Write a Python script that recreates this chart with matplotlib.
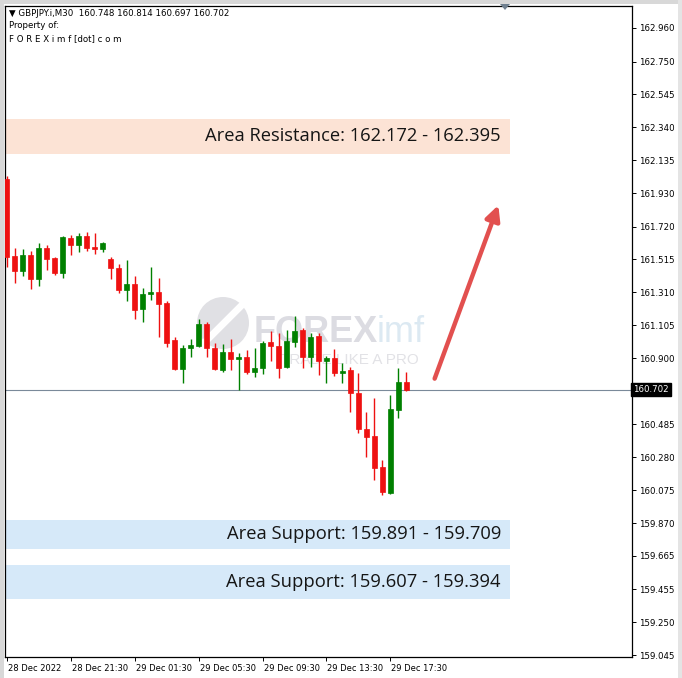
import matplotlib
matplotlib.use("Agg")
import matplotlib.pyplot as plt
from matplotlib.patches import Rectangle, Ellipse, Polygon, FancyArrowPatch
from matplotlib.transforms import blended_transform_factory, ScaledTranslation

W, H = 682, 678

# GBPJPY.i M30 bars, 28 Dec 17:30 .. 29 Dec 18:30
opens = [162.016, 161.537, 161.445, 161.543, 161.391, 161.587, 161.522, 161.433, 161.651, 161.604,
         161.662, 161.591, 161.582, 161.516, 161.464, 161.325, 161.362, 161.204, 161.298, 161.314,
         161.245, 161.012, 160.833, 160.961, 160.975, 161.112, 160.964, 160.825, 160.936, 160.896,
         160.904, 160.815, 160.836, 160.998, 160.975, 160.846, 161.002, 161.075, 160.904, 161.037,
         160.883, 160.898, 160.808, 160.825, 160.683, 160.455, 160.413, 160.218, 160.059, 160.575,
         160.748]
highs = [162.036, 161.585, 161.579, 161.570, 161.620, 161.605, 161.529, 161.662, 161.668, 161.678,
         161.687, 161.678, 161.626, 161.529, 161.487, 161.512, 161.412, 161.335, 161.470, 161.398,
         161.258, 161.029, 160.981, 161.021, 161.142, 161.127, 160.992, 160.987, 161.017, 160.929,
         160.950, 160.961, 161.008, 161.071, 161.054, 161.075, 161.162, 161.085, 161.056, 161.056,
         160.913, 160.954, 160.867, 160.842, 160.805, 160.565, 160.648, 160.263, 160.669, 160.836,
         160.814]
lows = [161.470, 161.366, 161.412, 161.329, 161.350, 161.449, 161.418, 161.398, 161.543, 161.564,
        161.570, 161.547, 161.564, 161.391, 161.304, 161.258, 161.142, 161.127, 161.262, 161.033,
        160.971, 160.825, 160.742, 160.908, 160.967, 160.904, 160.825, 160.815, 160.825, 160.700,
        160.800, 160.783, 160.800, 160.883, 160.773, 160.836, 160.971, 160.838, 160.842, 160.794,
        160.746, 160.788, 160.742, 160.565, 160.430, 160.284, 160.139, 160.045, 160.051, 160.524,
        160.697]
closes = [161.532, 161.445, 161.543, 161.391, 161.587, 161.516, 161.433, 161.655, 161.604, 161.662,
          161.587, 161.582, 161.620, 161.464, 161.325, 161.362, 161.200, 161.300, 161.314, 161.237,
          160.996, 160.833, 160.961, 160.979, 161.112, 160.961, 160.830, 160.939, 160.892, 160.904,
          160.815, 160.836, 160.996, 160.977, 160.836, 161.008, 161.071, 160.906, 161.033, 160.883,
          160.898, 160.808, 160.817, 160.683, 160.455, 160.409, 160.212, 160.066, 160.580, 160.748,
          160.702]

price_ticks = [162.960, 162.750, 162.545, 162.340, 162.135, 161.930, 161.720, 161.515, 161.310,
               161.105, 160.900, 160.485, 160.280, 160.075, 159.870, 159.665, 159.455, 159.250,
               159.045]
time_ticks = [0, 8, 16, 24, 32, 40, 48]
time_labels = ['28 Dec 2022', '28 Dec 21:30', '29 Dec 01:30', '29 Dec 05:30',
               '29 Dec 09:30', '29 Dec 13:30', '29 Dec 17:30']

last_price = 160.702
resistance = (162.172, 162.395)
supports = [(159.709, 159.891), (159.394, 159.607)]
zone_end = 62.9
arrow_from = (53.4, 160.755)
arrow_to = (61.6, 161.870)

UP = '#008000'
DOWN = '#ee1111'


def fxy(x, y):
    # pixel position -> figure fraction
    return x / W, 1 - y / H


def main():
    fig = plt.figure(figsize=(W / 100, H / 100), dpi=100, facecolor='white')
    ax = fig.add_axes([5 / W, (H - 657) / H, 627 / W, 651 / H])
    ax.set_xlim(-0.19, 78.19)
    ax.set_ylim(159.0336, 163.0973)

    # candles
    for i in range(len(opens)):
        o, h, l, c = opens[i], highs[i], lows[i], closes[i]
        col = UP if c >= o else DOWN
        ax.vlines(i, l, h, color=col, lw=1.0, zorder=3)
        lo = min(o, c)
        ht = max(abs(c - o), 0.009)
        ax.add_patch(Rectangle((i - 0.31, lo), 0.62, ht, facecolor=col,
                               edgecolor=col, lw=0.5, zorder=4))

    # zones
    x0 = ax.get_xlim()[0]
    ax.fill_between([x0, zone_end], resistance[0], resistance[1], color='#fce3d5',
                    lw=0, zorder=1)
    ax.text(61.8, sum(resistance) / 2, 'Area Resistance: %.3f - %.3f' % resistance,
            ha='right', va='center', fontsize=13.2, family='Open Sans', color='#151515', zorder=2)
    for lo, hi in supports:
        ax.fill_between([x0, zone_end], lo, hi, color='#d6e9f9', lw=0, zorder=1)
        ax.text(61.8, (lo + hi) / 2, 'Area Support: %.3f - %.3f' % (hi, lo),
                ha='right', va='center', fontsize=13.2, family='Open Sans', color='#151515', zorder=2)

    # current price line
    ax.axhline(last_price, color='#7a8a9a', lw=0.8, zorder=2)
    tr = blended_transform_factory(ax.transAxes, ax.transData)
    ax.text(1.002, last_price, '%.3f' % last_price, transform=tr, ha='left', va='center',
            fontsize=6.2, color='white', zorder=6, clip_on=False,
            bbox=dict(boxstyle='square,pad=0.25', fc='black', ec='black'))

    # arrow
    ax.add_patch(FancyArrowPatch(arrow_from, arrow_to, arrowstyle='-|>', mutation_scale=22,
                                 lw=3.2, color='#e2504f', zorder=5))

    # watermark
    cx, cy = fxy(223, 323)
    ax.add_patch(Ellipse((cx, cy), 52 / W, 52 / H, transform=fig.transFigure,
                         facecolor='#e0e0e4', edgecolor='none', zorder=0.5))
    ax.plot([fxy(207, 340)[0], fxy(240, 307)[0]], [fxy(207, 340)[1], fxy(240, 307)[1]],
            transform=fig.transFigure, color='white', lw=5, zorder=0.6)
    ax.text(*fxy(254, 333), 'FOREX', transform=fig.transFigure, fontsize=26, weight='bold',
            family='Liberation Sans', color='#dcdce2', ha='left', va='center', zorder=0.5)
    ax.text(*fxy(377, 333), 'imf', transform=fig.transFigure, fontsize=26,
            family='Liberation Sans', color='#dce9f2', ha='left', va='center', zorder=0.5)
    ax.text(*fxy(280, 360), 'TRADE LIKE A PRO', transform=fig.transFigure, fontsize=11,
            family='Liberation Sans', color='#e2e2e6', ha='left', va='center', zorder=0.5)

    # header
    ax.text(*fxy(9, 13), '\u25bc GBPJPY.i,M30  160.748 160.814 160.697 160.702',
            transform=fig.transFigure, fontsize=6.2, ha='left', va='center', zorder=6)
    ax.text(*fxy(9, 26), 'Property of:', transform=fig.transFigure, fontsize=6.2,
            ha='left', va='center', zorder=6)
    ax.text(*fxy(9, 39), 'F O R E X i m f [dot] c o m', transform=fig.transFigure,
            fontsize=6.2, ha='left', va='center', zorder=6)

    # axes
    ax.yaxis.tick_right()
    ax.set_yticks(price_ticks)
    ax.set_yticklabels(['%.3f' % p for p in price_ticks])
    ax.set_xticks(time_ticks)
    ax.set_xticklabels(time_labels)
    ax.tick_params(axis='y', direction='out', length=3, width=0.7, labelsize=6.2, pad=2)
    ax.tick_params(axis='x', direction='out', length=3, width=0.7, labelsize=6, pad=2)
    off = ScaledTranslation(1 / 100, 0, fig.dpi_scale_trans)
    for lab in ax.get_xticklabels():
        lab.set_ha('left')
        lab.set_transform(lab.get_transform() + off)
    for sp in ax.spines.values():
        sp.set_color('black')
        sp.set_linewidth(0.9)

    # window frame
    fig.patches.append(Rectangle((0, 0), 4 / W, 1, transform=fig.transFigure,
                                 facecolor='#d8d8d8', edgecolor='none', zorder=0))
    fig.patches.append(Rectangle((0, 1 - 4 / H), 1, 4 / H, transform=fig.transFigure,
                                 facecolor='#d8d8d8', edgecolor='none', zorder=0))
    fig.patches.append(Rectangle((678 / W, 0), 4 / W, 1, transform=fig.transFigure,
                                 facecolor='#e4e4e4', edgecolor='none', zorder=0))
    fig.patches.append(Polygon([fxy(500, 4), fxy(510, 4), fxy(505, 10)], closed=True,
                               transform=fig.transFigure, facecolor='#708090',
                               edgecolor='none', zorder=1))

    fig.savefig('out.png', dpi=100, facecolor='white')
    plt.close(fig)


if __name__ == '__main__':
    main()
